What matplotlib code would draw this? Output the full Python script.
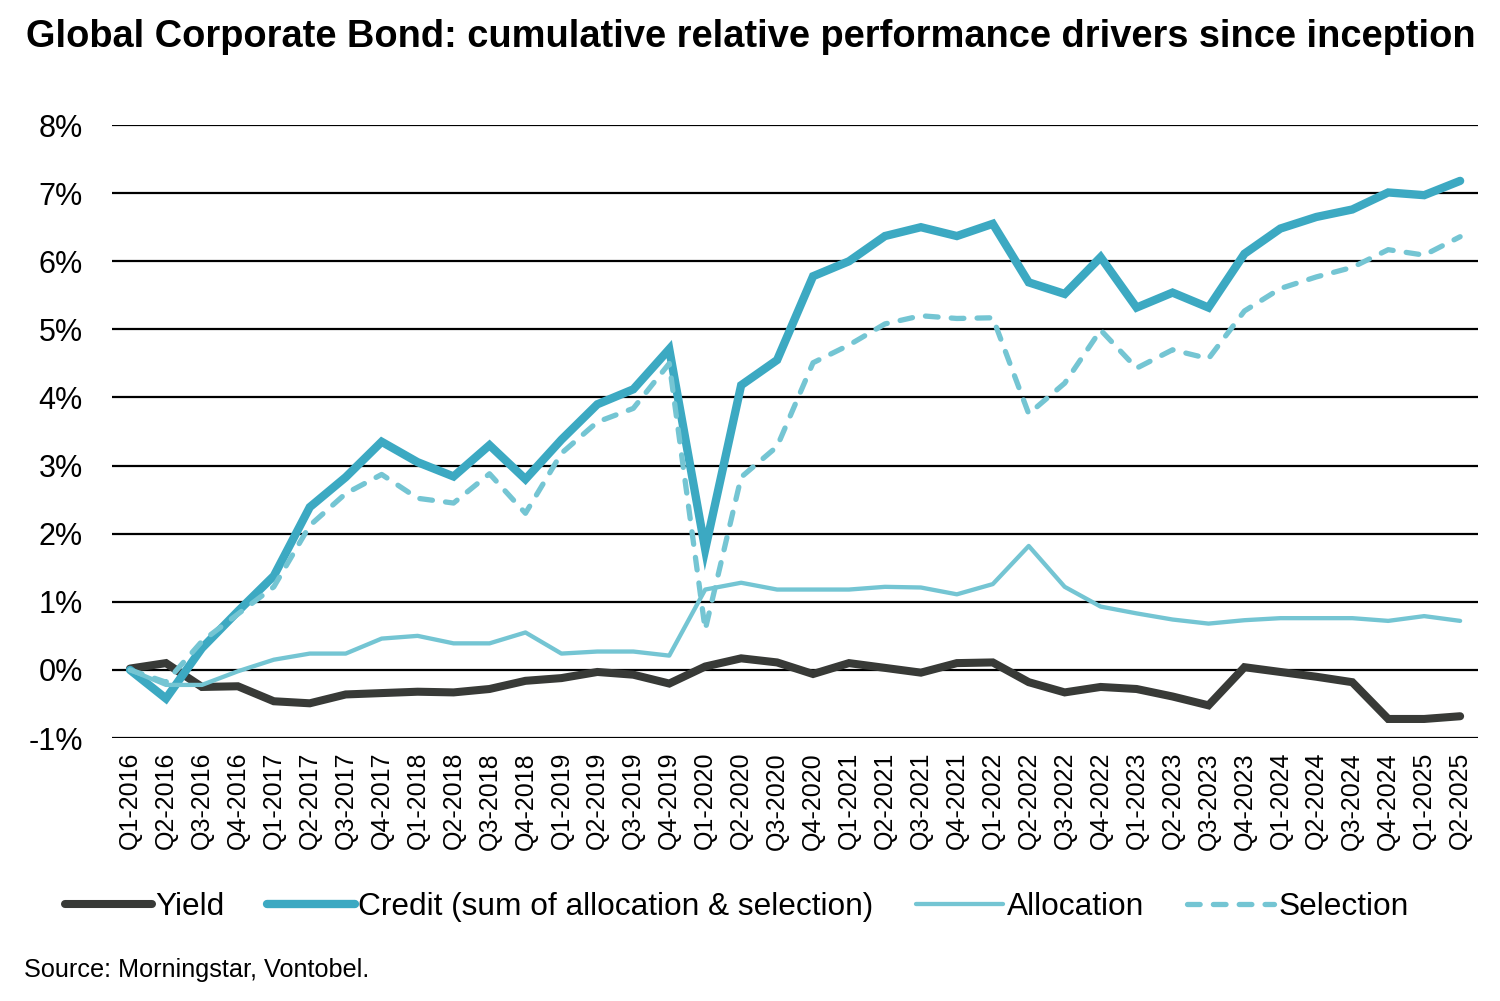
import numpy as np
import matplotlib.pyplot as plt

plt.rcParams['font.family'] = ['Liberation Sans', 'DejaVu Sans']

years = range(2016, 2026)
quarters = [f"Q{q}-{y}" for y in years for q in range(1, 5)][:38]

yield_ = [0.02, 0.10, -0.25, -0.24, -0.46, -0.49, -0.36, -0.34, -0.32, -0.33, -0.28, -0.16,
          -0.12, -0.03, -0.07, -0.20, 0.05, 0.17, 0.11, -0.06, 0.10, 0.03, -0.04, 0.10,
          0.11, -0.18, -0.33, -0.25, -0.28, -0.39, -0.52, 0.04, -0.03, -0.10, -0.18, -0.72,
          -0.72, -0.68]
credit = [0.0, -0.42, 0.32, 0.86, 1.38, 2.39, 2.83, 3.35, 3.05, 2.84, 3.30, 2.80,
          3.38, 3.90, 4.12, 4.71, 1.77, 4.18, 4.55, 5.78, 6.00, 6.37, 6.50, 6.37,
          6.55, 5.69, 5.52, 6.06, 5.32, 5.54, 5.32, 6.11, 6.48, 6.65, 6.76, 7.01,
          6.97, 7.18]
allocation = [0.0, -0.22, -0.22, -0.02, 0.15, 0.24, 0.24, 0.46, 0.50, 0.39, 0.39, 0.55,
              0.24, 0.27, 0.27, 0.21, 1.18, 1.28, 1.18, 1.18, 1.18, 1.22, 1.21, 1.11,
              1.26, 1.82, 1.22, 0.93, 0.83, 0.74, 0.68, 0.73, 0.76, 0.76, 0.76, 0.72,
              0.79, 0.72]
selection = [0.0, -0.18, 0.42, 0.82, 1.22, 2.12, 2.59, 2.87, 2.52, 2.45, 2.88, 2.30,
             3.18, 3.64, 3.84, 4.50, 0.59, 2.83, 3.28, 4.51, 4.77, 5.08, 5.20, 5.16,
             5.17, 3.76, 4.21, 4.99, 4.43, 4.70, 4.57, 5.27, 5.60, 5.77, 5.91, 6.17,
             6.09, 6.36]

x = np.arange(len(quarters))

fig = plt.figure(figsize=(15, 10.01), dpi=100)
ax = fig.add_axes([0.0747, 0.2627, 0.9107, 0.6124])

ax.plot(x, yield_, color='#383a37', lw=5.8, solid_capstyle='round', solid_joinstyle='miter', label='Yield', zorder=3)
ax.plot(x, credit, color='#3ca9c2', lw=6.0, solid_capstyle='round', solid_joinstyle='miter',
        label='Credit (sum of allocation & selection)', zorder=4)
ax.plot(x, allocation, color='#74c5d3', lw=3.1, solid_capstyle='round', label='Allocation', zorder=5)
ax.plot(x, selection, color='#74c5d3', lw=3.8, dashes=(2.4, 2.5), dash_capstyle='round',
        label='Selection', zorder=6)

ax.set_xlim(-0.5, len(quarters) - 0.5)
ax.set_ylim(-1, 8)
ax.set_yticks(range(-1, 9))
ax.set_yticklabels([f"{v}%" for v in range(-1, 9)])
ax.set_xticks(x)
ax.set_xticklabels(quarters, rotation=90)
ax.tick_params(axis='y', length=0, pad=21, labelsize=22)
ax.tick_params(axis='x', length=0, pad=10, labelsize=18)
ax.grid(axis='y', color='black', lw=1.6, zorder=1)
for s in ax.spines.values():
    s.set_visible(False)

fig.text(0.017, 0.963, 'Global Corporate Bond: cumulative relative performance drivers since inception',
         fontsize=27.4, fontweight='bold', va='center', ha='left')
fig.text(0.016, 0.031, 'Source: Morningstar, Vontobel.', fontsize=18.2, va='center', ha='left')

fig.legend(loc='center', bbox_to_anchor=(0.491, 0.094), ncol=4, frameon=False, fontsize=22.8,
           handlelength=2.75, handletextpad=0.12, columnspacing=1.35)

fig.savefig('out.png', dpi=100)
